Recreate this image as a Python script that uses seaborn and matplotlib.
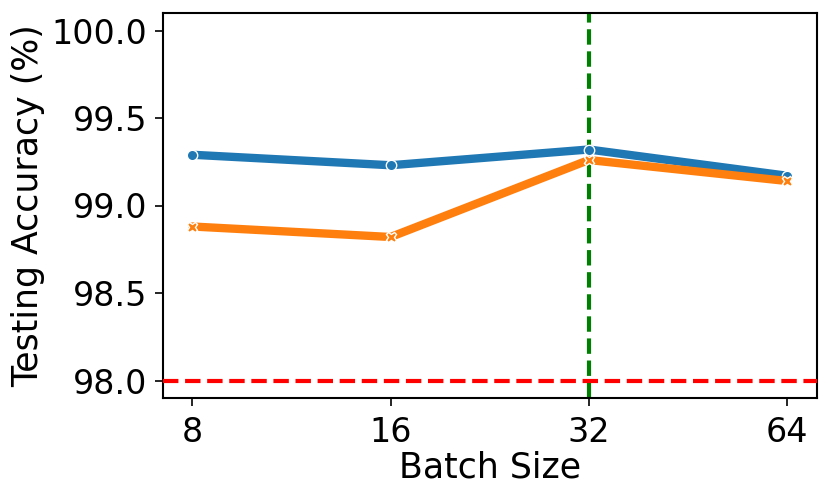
import pandas as pd
import seaborn as sns
import matplotlib.pyplot as plt
from matplotlib.ticker import FixedLocator, FixedFormatter, NullLocator

# 數據
batch_sizes = [8, 16, 32, 64]
acc_a = [99.29, 99.23, 99.32, 99.17]
acc_b = [98.88, 98.82, 99.26, 99.14]
series_names = ["A", "B"]
tick_labels = ["8", "16", "32", "64"]

df = pd.DataFrame({
    "Batch Size": batch_sizes * 2,
    "Accuracy": acc_a + acc_b,
    "Series": [series_names[0]] * 4 + [series_names[1]] * 4,
})

sns.set_style("ticks")
plt.rcParams["font.family"] = ["DejaVu Sans"]
plt.rcParams["text.color"] = "black"
plt.rcParams["axes.labelcolor"] = "black"
plt.rcParams["xtick.color"] = "black"
plt.rcParams["ytick.color"] = "black"

fig = plt.figure(figsize=(8.3, 5), dpi=100)
ax = fig.add_axes([0.196, 0.204, 0.788, 0.770])

ax.axvline(32, color="green", linestyle="--", linewidth=3, zorder=1)
sns.lineplot(data=df, x="Batch Size", y="Accuracy", hue="Series", style="Series",
             markers=["o", "X"], dashes=False, linewidth=6, markersize=7.5,
             markeredgecolor="white", markeredgewidth=1, legend=False, ax=ax, zorder=2)
ax.axhline(98.0, color="red", linestyle="--", linewidth=3, zorder=3)

ax.set_xscale("log", base=2)
ax.xaxis.set_major_locator(FixedLocator(batch_sizes))
ax.xaxis.set_major_formatter(FixedFormatter(tick_labels))
ax.xaxis.set_minor_locator(NullLocator())
ax.set_ylim(97.9, 100.1)
ax.set_yticks([98.0, 98.5, 99.0, 99.5, 100.0])
ax.set_yticklabels(["98.0", "98.5", "99.0", "99.5", "100.0"])

ax.tick_params(labelsize=24, length=6, width=1.2, pad=5)
ax.tick_params(axis="x", pad=7)
for s in ax.spines.values():
    s.set_linewidth(1.5)
    s.set_color("black")
ax.set_xlabel("Batch Size", fontsize=25, labelpad=1)
ax.set_ylabel("Testing Accuracy (%)", fontsize=25, labelpad=5)

plt.savefig("out.png", dpi=100)
